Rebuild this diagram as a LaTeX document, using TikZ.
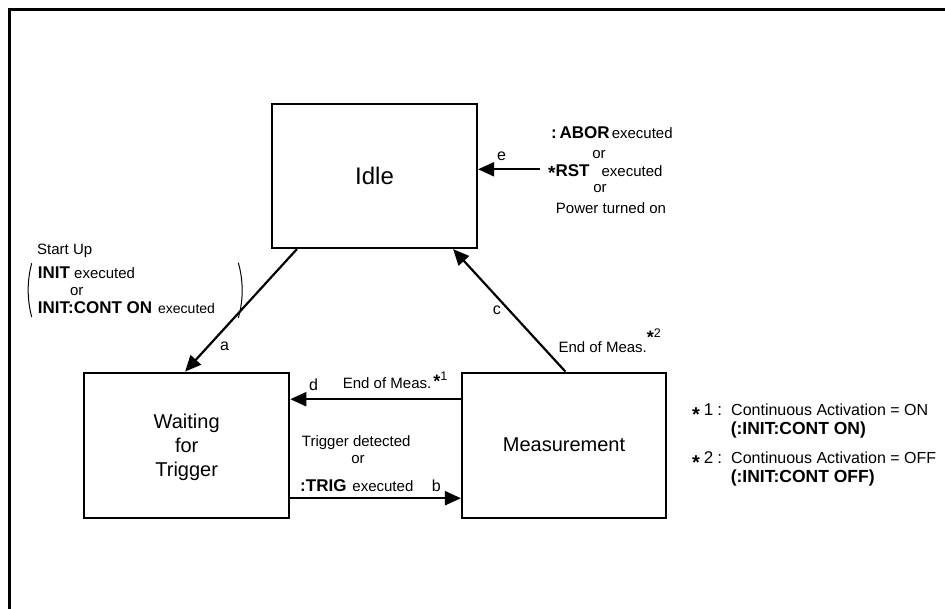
\documentclass[tikz,border=0pt]{standalone}
\usepackage{fontspec}
\setmainfont{Liberation Sans}
\usetikzlibrary{arrows.meta}
\newcommand\setfs[1]{\fontsize{#1}{#1}\selectfont}
\begin{document}
\begin{tikzpicture}[x=1pt,y=-1pt,
  statebox/.style={draw, line width=2.2pt, inner sep=0pt, align=center},
  arr/.style={line width=2.2pt, -{Triangle[length=16pt,width=14pt]}},
  txt/.style={inner sep=0pt, anchor=base west, font=\setfs{15}},
  ctxt/.style={inner sep=0pt, anchor=base, font=\setfs{15}},
  letter/.style={inner sep=0pt, anchor=base west, font=\setfs{16}},
  paren/.style={line width=1pt}]
\useasboundingbox (0,0) rectangle (945,609);
% outer frame
\draw[line width=2.5pt] (945,9.3) -| (9.3,609);

% states
\node[statebox, minimum width=205pt, minimum height=144pt, font=\setfs{24}] (idle) at (374.5,176) {Idle};
\node[statebox, minimum width=205pt, minimum height=145pt, font=\setfs{20}, text depth=0pt] (wait) at (186.7,445.2)
  {\setfs{20}Waiting\\[4pt]\setfs{20}for\\[4pt]\setfs{20}Trigger};
\node[statebox, minimum width=204pt, minimum height=145pt, font=\setfs{20}] (meas) at (564,445.2) {Measurement};

% connectors
\draw[arr] ([xshift=26pt]idle.south west) -- ([xshift=102pt]wait.north west);
\draw[arr] ([xshift=104.5pt]meas.north west) -- ([xshift=-25pt]idle.south east);
\coordinate (eS) at (540,169.3);
\draw[arr] (eS) -- (eS -| idle.east);
\draw[arr] ([yshift=46pt]meas.west) -- ([yshift=46pt]wait.east);
\draw[arr] ([yshift=-53pt]wait.east) -- ([yshift=-53pt]meas.west);

% labels a
\node[txt] (su) at (37,255) {Start Up};
\node[txt] (i1) at (37.7,278.3) {{\setfs{17}\bfseries INIT} executed};
\node[ctxt] (o1) at (76.7,295.7) {or};
\node[txt] (i2) at (37.7,314) {{\setfs{17}\bfseries INIT:CONT ON}\hspace{6pt}{\setfs{14}executed}};
\draw[paren] (31.7,263.3) .. controls (27,281) and (27,299) .. (31.7,317);
\draw[paren] (238.3,262.7) .. controls (243.5,281) and (243.5,300) .. (238.3,318);
\node[letter] (la) at (220,350.7) {a};

% labels e
\node[txt] (ab) at (551,139) {{\setfs{17}\bfseries :\,ABOR}\hspace{2pt}executed};
\node[ctxt] (o2) at (599,158.3) {or};
\node[txt] (rs) at (548,176.7) {{\setfs{17}\bfseries\raisebox{-3pt}{\setfs{19}*}RST}\hspace{12pt}executed};
\node[ctxt] (o3) at (600,192.7) {or};
\node[ctxt] (pw) at (611,214) {Power turned on};
\node[letter] (le) at (497,161) {e};

% labels c
\node[letter] (lc) at (492.7,315) {c};
\node[txt] (em2) at (558.3,352.7) {End of Meas.\raisebox{8.7pt}{\setfs{18}\bfseries *}\raisebox{14.7pt}{\setfs{12.5}2}};

% labels d
\node[letter] (ld) at (309,390.7) {d};
\node[txt] (em1) at (342.7,388.3) {End of Meas.\hspace{2pt}\raisebox{1pt}{\setfs{18}\bfseries *}\raisebox{7.6pt}{\setfs{12.5}1}};

% labels b
\node[txt] (td) at (301.7,446.7) {Trigger detected};
\node[ctxt] (o4) at (358,463.3) {or};
\node[txt] (tr) at (300,491.7) {{\setfs{17}\bfseries :TRIG}\hspace{6pt}executed};
\node[letter] (lb) at (431.7,491.7) {b};

% legend
\node[txt] (s1) at (692,415) {{\setfs{20}\bfseries\raisebox{-6pt}{*}}\hspace{4pt}{\setfs{17}1}\hspace{4pt}{\setfs{17}:}};
\node[txt, font=\setfs{16}] (n1) at (731,415) {Continuous Activation = ON};
\node[txt, font=\setfs{17.5}\bfseries] (c1) at (730.6,434) {(:INIT:CONT ON)};
\node[txt] (s2) at (692,463.3) {{\setfs{20}\bfseries\raisebox{-6pt}{*}}\hspace{4pt}{\setfs{17}2}\hspace{4pt}{\setfs{17}:}};
\node[txt, font=\setfs{16}] (n2) at (731,463.3) {Continuous Activation = OFF};
\node[txt, font=\setfs{17.5}\bfseries] (c2) at (730.6,482) {(:INIT:CONT OFF)};
\end{tikzpicture}
\end{document}
